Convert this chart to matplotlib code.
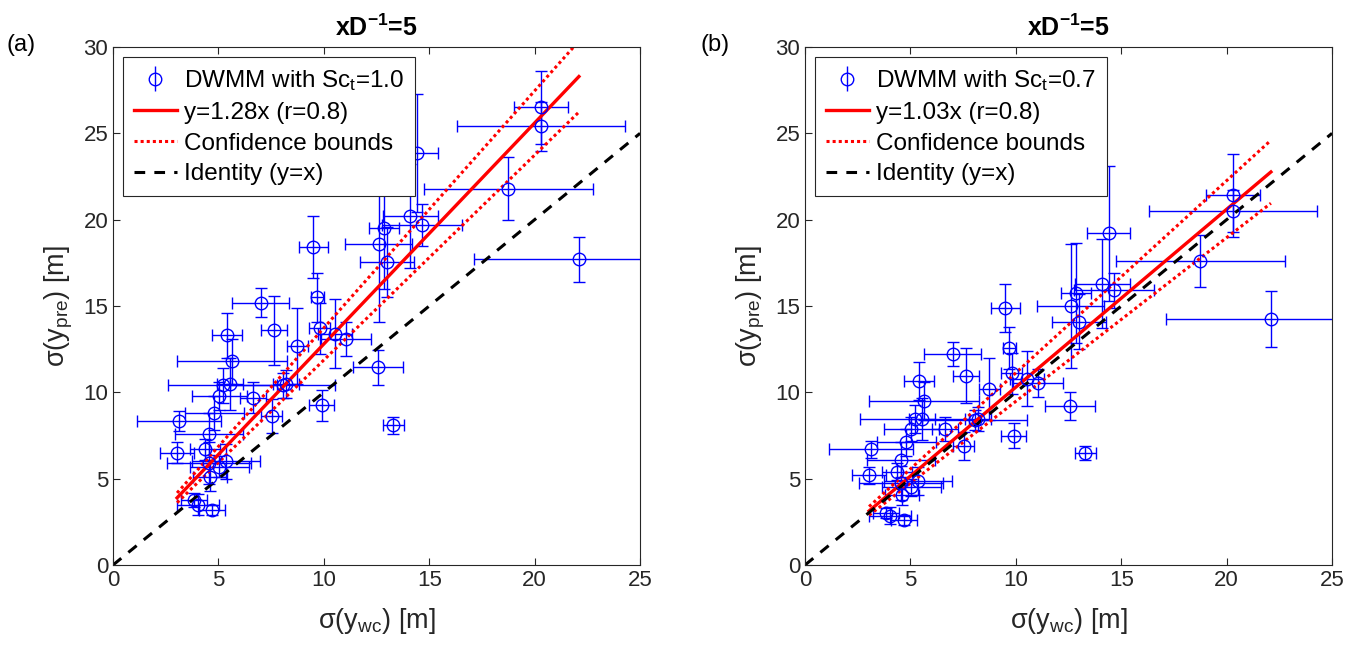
import matplotlib
matplotlib.use("Agg")
import matplotlib.pyplot as plt
import numpy as np
from typing import List

# sigma(y_wc), shared by both panels
x_wc = [20.3, 20.3, 14.4, 18.75, 22.1, 14.1, 14.65, 12.85, 13.0, 12.6, 9.5, 9.7,
        7.0, 7.64, 5.4, 5.65, 9.8, 8.75, 11.05, 10.53, 5.2, 5.55, 6.64, 5.05,
        8.2, 8.05, 3.13, 3.04, 4.8, 4.55, 4.36, 5.36, 5.03, 4.6, 4.55, 7.54,
        3.84, 4.03, 4.7, 9.9, 12.57, 13.3]
x_err = [1.3, 4.0, 1.0, 4.0, 5.0, 1.3, 1.9, 0.7, 1.3, 1.6, 0.7, 0.3,
         1.35, 0.6, 0.7, 2.6, 0.5, 0.5, 1.2, 0.8, 2.6, 0.6, 0.6, 1.3,
         0.6, 2.5, 2.0, 0.8, 1.4, 1.6, 0.7, 1.6, 1.4, 0.8, 2.0, 0.5,
         0.6, 1.0, 0.6, 0.6, 1.2, 0.5]

# sigma(y_pre), Sc_t = 1.0
y_sc10 = [26.5, 25.4, 23.85, 21.8, 17.7, 20.2, 19.7, 19.5, 17.55, 18.6, 18.4, 15.5,
          15.2, 13.6, 13.3, 11.8, 13.7, 12.7, 13.1, 13.4, 10.4, 10.5, 9.7, 9.8,
          10.5, 10.4, 8.34, 6.5, 8.8, 7.6, 6.7, 6.0, 5.7, 5.1, 5.9, 8.63,
          3.76, 3.5, 3.2, 9.26, 11.45, 8.1]
y_err10 = [2.1, 1.4, 3.4, 1.8, 1.3, 3.0, 1.2, 3.5, 2.0, 4.5, 1.8, 1.4,
           0.85, 2.0, 1.3, 1.3, 1.5, 2.2, 1.0, 2.0, 1.0, 1.5, 0.9, 0.8,
           0.8, 0.7, 0.6, 0.6, 1.0, 1.2, 0.6, 1.0, 0.6, 0.8, 1.2, 1.0,
           0.4, 0.6, 0.3, 0.9, 1.0, 0.5]

# sigma(y_pre), Sc_t = 0.7
y_sc07 = [21.4, 20.5, 19.2, 17.6, 14.25, 16.3, 15.9, 15.75, 14.1, 15.0, 14.9, 12.56,
          12.2, 10.96, 10.66, 9.5, 11.1, 10.2, 10.55, 10.8, 8.45, 8.45, 7.86, 7.9,
          8.45, 8.4, 6.7, 5.2, 7.1, 6.1, 5.4, 4.87, 4.5, 4.05, 4.75, 6.9,
          3.0, 2.85, 2.6, 7.5, 9.2, 6.5]
y_err07 = [2.4, 1.2, 3.9, 1.5, 1.6, 2.6, 1.0, 2.9, 1.6, 3.6, 1.4, 1.2,
           0.7, 1.6, 1.1, 1.1, 1.2, 1.8, 0.8, 1.6, 0.8, 1.2, 0.7, 0.7,
           0.7, 0.6, 0.5, 0.5, 0.8, 1.0, 0.5, 0.8, 0.5, 0.6, 1.0, 0.8,
           0.3, 0.5, 0.3, 0.7, 0.8, 0.4]

# fitted slopes and their confidence bounds
slopes = [1.28, 1.03]
slope_lo = [1.187, 0.948]
slope_hi = [1.373, 1.113]
sc_labels = ["1.0", "0.7"]
panel_labels = ["(a)", "(b)"]

plt.rcParams["font.family"] = ["Liberation Sans", "DejaVu Sans"]
plt.rcParams["font.size"] = 16
plt.rcParams["mathtext.fontset"] = "custom"
plt.rcParams["mathtext.rm"] = "Liberation Sans"
plt.rcParams["mathtext.it"] = "Liberation Sans:italic"
plt.rcParams["mathtext.bf"] = "Liberation Sans:bold"
plt.rcParams["mathtext.default"] = "regular"

AX_GRAY = "#262626"
EB_STYLE = dict(fmt="o", color="blue", mfc="none", ms=9, mew=1.0,
                elinewidth=1.0, capsize=4.5, capthick=1.2)


def draw_panel(ax, y: List[float], yerr: List[float], k: int) -> None:
    """
    One scatter panel with error bars, fit line, bounds and identity.
    """
    xs = np.array(x_wc)
    ax.errorbar(xs, y, xerr=x_err, yerr=yerr, **EB_STYLE)
    # legend proxy: marker with vertical bar only
    eb = ax.errorbar([], [], yerr=[], label="DWMM with Sc$_t$=" + sc_labels[k],
                     **EB_STYLE)

    xf = np.array([xs.min(), xs.max()])
    fit, = ax.plot(xf, slopes[k] * xf, color="red", lw=2.4,
                   label="y=%.2fx (r=0.8)" % slopes[k])
    cb, = ax.plot(xf, slope_hi[k] * xf, color="red", lw=2.2, ls=(0, (1, 1)),
                  label="Confidence bounds")
    ax.plot(xf, slope_lo[k] * xf, color="red", lw=2.2, ls=(0, (1, 1)))
    ident, = ax.plot([0, 25], [0, 25], color="black", lw=2.2, ls=(0, (3.5, 3)),
                     label="Identity (y=x)")

    ax.set_xlim(0, 25)
    ax.set_ylim(0, 30)
    ax.set_xticks(range(0, 26, 5))
    ax.set_yticks(range(0, 31, 5))
    ax.tick_params(direction="in", length=5, colors=AX_GRAY, top=True,
                   right=False, labelsize=16)
    for side in ["top", "right", "left", "bottom"]:
        ax.spines[side].set_color(AX_GRAY)
        ax.spines[side].set_linewidth(0.8)
    ax.set_xlabel(r"$\sigma$(y$_{wc}$) [m]", fontsize=19.5, color=AX_GRAY,
                  labelpad=11)
    ax.set_ylabel(r"$\sigma$(y$_{pre}$) [m]", fontsize=19.5, color=AX_GRAY,
                  labelpad=6)
    ax.set_title(r"xD$^{\mathbf{-1}}$=5", fontsize=18, fontweight="bold", pad=8)

    leg = ax.legend([eb, fit, cb, ident],
                    [eb.get_label(), fit.get_label(), cb.get_label(),
                     ident.get_label()],
                    loc="upper left", fontsize=17.5, fancybox=False,
                    edgecolor=AX_GRAY, framealpha=1, handlelength=1.75,
                    handletextpad=0.3, borderpad=0.45, labelspacing=0.36,
                    borderaxespad=0.42)
    leg.get_frame().set_linewidth(0.8)


fig = plt.figure(figsize=(13.63, 6.47), dpi=100)
ax1 = fig.add_axes([0.0829, 0.1267, 0.3867, 0.8007])
ax2 = fig.add_axes([0.5906, 0.1267, 0.3867, 0.8007])
draw_panel(ax1, y_sc10, y_err10, 0)
draw_panel(ax2, y_sc07, y_err07, 1)
fig.text(0.005, 0.93, panel_labels[0], fontsize=17, va="center")
fig.text(0.514, 0.93, panel_labels[1], fontsize=17, va="center")

fig.savefig("out.png", dpi=100)
